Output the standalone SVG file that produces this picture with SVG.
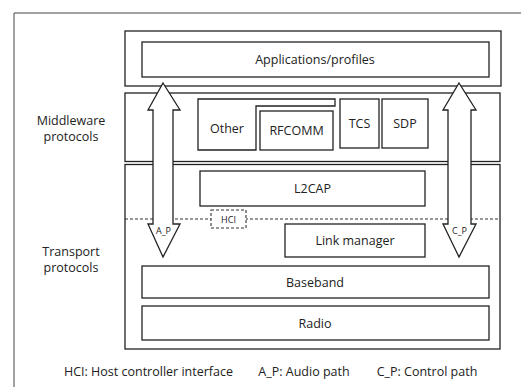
<svg xmlns="http://www.w3.org/2000/svg" width="521" height="387" viewBox="0 0 521 387">
<style>
.b{fill:#fff;stroke:#222;stroke-width:1.3}
.d{fill:#fff;stroke:#333;stroke-width:1.1;stroke-dasharray:3 2}
.t{font-family:"Open Sans","Liberation Sans",sans-serif;font-size:12.5px;fill:#222;text-anchor:middle}
.s{font-family:"Open Sans","Liberation Sans",sans-serif;font-size:9px;fill:#222;text-anchor:middle}
</style>
<rect width="521" height="387" fill="#fff"/>
<path d="M14,387 V13 H521" fill="none" stroke="#444" stroke-width="1"/>
<g id="applications-outer"><rect class="b" x="125" y="31" width="376" height="55"/></g>
<g id="applications"><rect class="b" x="142" y="42" width="347" height="35"/><text class="t" x="315" y="64">Applications/profiles</text></g>
<g id="middleware"><rect class="b" x="125" y="93" width="375" height="68.5"/></g>
<g id="transport"><rect class="b" x="125" y="164.5" width="375" height="184.5"/></g>
<g id="hci-line"><line x1="125" y1="219" x2="500" y2="219" stroke="#333" stroke-width="1.1" stroke-dasharray="3 2"/></g>
<g id="other"><path class="b" d="M198,99 H335 V106 H256 V150 H198 Z"/><text class="t" x="227" y="133">Other</text></g>
<g id="rfcomm"><rect class="b" x="260" y="111" width="73" height="39"/><text class="t" x="296.5" y="135" font-size="12">RFCOMM</text></g>
<g id="tcs"><rect class="b" x="340" y="99" width="39" height="49"/><text class="t" x="359.5" y="128">TCS</text></g>
<g id="sdp"><rect class="b" x="382" y="99" width="46" height="49"/><text class="t" x="405" y="128">SDP</text></g>
<g id="l2cap"><rect class="b" x="200" y="171" width="225" height="35"/><text class="t" x="312.5" y="193">L2CAP</text></g>
<g id="hci"><rect class="d" x="211" y="210" width="35" height="18"/><text class="s" x="228.5" y="222.5">HCI</text></g>
<g id="link-manager"><rect class="b" x="285" y="224" width="140" height="33"/><text class="t" x="355" y="245">Link manager</text></g>
<g id="baseband"><rect class="b" x="142" y="266" width="347" height="32"/><text class="t" x="315" y="287">Baseband</text></g>
<g id="radio"><rect class="b" x="142" y="306" width="347" height="34"/><text class="t" x="315" y="328">Radio</text></g>
<g id="connectors">
<path id="a-p" class="b" d="M163,83 L180,110 H173 V224 H180 L163,257 L148,224 H153 V110 H148 Z"/>
<path id="c-p" class="b" d="M459,83 L476,110 H471 V224 H476 L459,257 L443,224 H448 V110 H443 Z"/>
</g>
<text class="s" x="163.5" y="234">A_P</text>
<text class="s" x="459.5" y="234">C_P</text>
<g id="labels">
<text class="t" x="71" y="125">Middleware</text>
<text class="t" x="71" y="141">protocols</text>
<text class="t" x="71" y="256">Transport</text>
<text class="t" x="71" y="272">protocols</text>
<text class="t" x="148.5" y="376" font-size="12">HCI: Host controller interface</text>
<text class="t" x="304" y="376" font-size="12">A_P: Audio path</text>
<text class="t" x="427" y="376" font-size="12">C_P: Control path</text>
</g>
</svg>
